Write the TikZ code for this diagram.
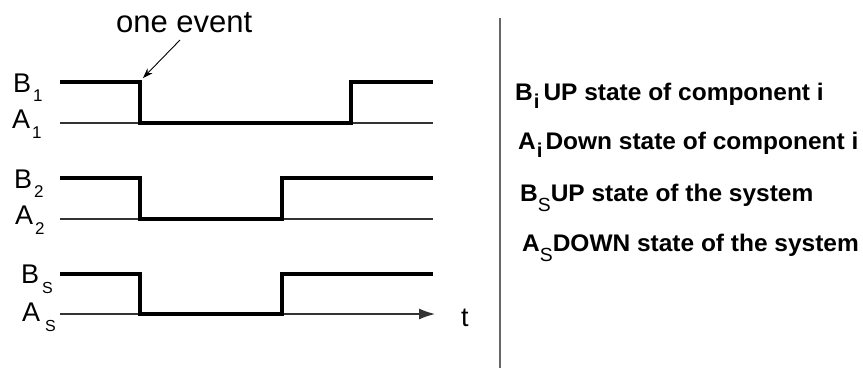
\documentclass[tikz,border=0pt]{standalone}
\usepackage{fontspec}
\setmainfont{Liberation Sans}
\newfontfamily\legendfont[FakeStretch=1.02]{Liberation Sans}
\usetikzlibrary{arrows.meta}

% lowered subscript: #1 = drop, #2 = size, #3 = text
\newcommand\lowsub[3]{\raisebox{-#1}{\fontsize{#2}{#2}\selectfont #3}}

\tikzset{
  wave/.style={line width=3.1pt, black, line join=miter},
  baseline/.style={line width=1.2pt, black!80},
  lbl/.style={inner sep=0pt, anchor=base west, font=\fontsize{27}{27}\selectfont},
  legend/.style={inner sep=0pt, anchor=base west, font=\legendfont\bfseries\fontsize{24}{24}\selectfont},
}

\begin{document}
\begin{tikzpicture}[x=1pt, y=-1pt]
\useasboundingbox (0,0) rectangle (863,368);

% ---- signal levels (thin reference lines) ----
\coordinate (a1s) at (60,123);  \coordinate (a1e) at (433,123);
\coordinate (a2s) at (60,219);  \coordinate (a2e) at (433,219);
\coordinate (ass) at (60,314);  \coordinate (ase) at (435,314);
\draw[baseline] (a1s) -- (a1e);
\draw[baseline] (a2s) -- (a2e);
\draw[baseline, -{Latex[length=16pt,width=11pt]}] (ass) -- (ase);

% ---- component 1 ----
\coordinate (w1a) at (60,82);   \coordinate (w1b) at (140,82);
\coordinate (w1c) at (140,123); \coordinate (w1d) at (351,123);
\coordinate (w1e) at (351,82);  \coordinate (w1f) at (433,82);
\draw[wave] (w1a) -- (w1b) -- (w1c) -- (w1d) -- (w1e) -- (w1f);

% ---- component 2 ----
\coordinate (w2a) at (60,178);  \coordinate (w2b) at (140,178);
\coordinate (w2c) at (140,219); \coordinate (w2d) at (282,219);
\coordinate (w2e) at (282,178); \coordinate (w2f) at (433,178);
\draw[wave] (w2a) -- (w2b) -- (w2c) -- (w2d) -- (w2e) -- (w2f);

% ---- system ----
\coordinate (wsa) at (60,274);  \coordinate (wsb) at (140,274);
\coordinate (wsc) at (140,314); \coordinate (wsd) at (282,314);
\coordinate (wse) at (282,274); \coordinate (wsf) at (433,274);
\draw[wave] (wsa) -- (wsb) -- (wsc) -- (wsd) -- (wse) -- (wsf);

% ---- level labels ----
\node[lbl] (B1) at (13,92)  {B\kern2pt\lowsub{9pt}{17}{1}};
\node[lbl] (A1) at (12,128) {A\kern2pt\lowsub{10pt}{17}{1}};
\node[lbl] (B2) at (14,188) {B\kern2pt\lowsub{9pt}{17}{2}};
\node[lbl] (A2) at (15,224) {A\kern2pt\lowsub{10pt}{17}{2}};
\node[lbl] (BS) at (21,283) {B\kern3pt\lowsub{10pt}{16}{S}};
\node[lbl] (AS) at (22,321) {A\kern5pt\lowsub{10pt}{16}{S}};
\node[lbl] (t) at (461,326) {t};

% ---- event annotation ----
\node[inner sep=0pt, anchor=base west, font=\fontsize{31}{31}\selectfont] (ev) at (116,32) {one event};
\coordinate (evtail) at (180,40);
\coordinate (evtip) at (143,78);
\draw[line width=0.9pt, -{Stealth[length=10pt,width=7pt]}] (evtail) -- (evtip);

% ---- divider ----
\coordinate (div0) at (500,18);
\coordinate (div1) at (500,368);
\draw[line width=1.5pt, black!60] (div0) -- (div1);

% ---- legend ----
\node[legend] (L1) at (515,100) {B\kern1pt\lowsub{8pt}{20}{i}\kern4pt UP state of component i};
\node[legend] (L2) at (518,149) {A\kern1pt\lowsub{8pt}{20}{i}\kern3pt Down state of component i};
\node[legend] (L3) at (520,201) {B\lowsub{10pt}{19}{\mdseries S}UP state of the system};
\node[legend] (L4) at (522,251) {A\lowsub{10pt}{19}{\mdseries S}DOWN state of the system};
\end{tikzpicture}
\end{document}
